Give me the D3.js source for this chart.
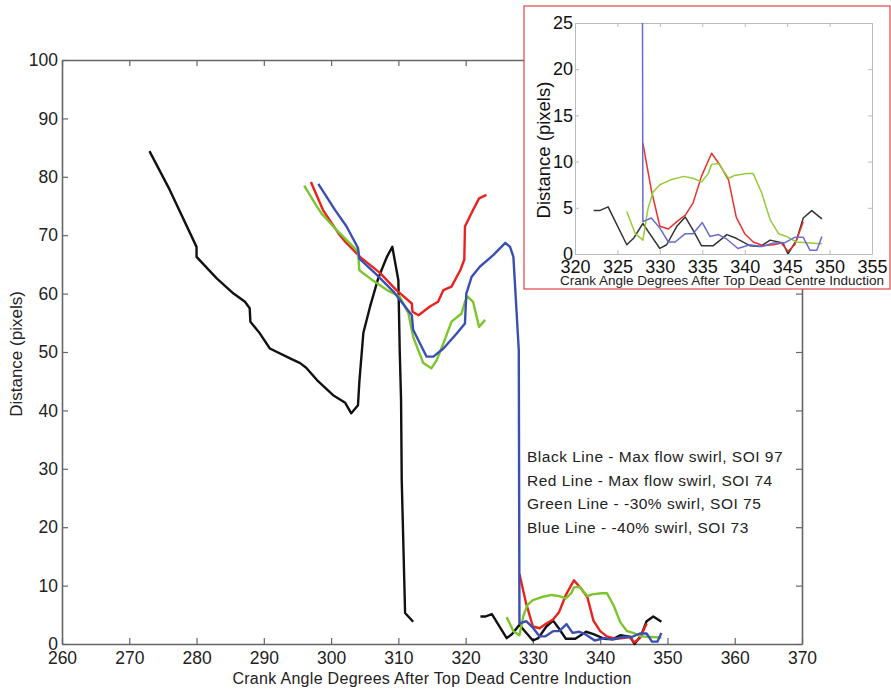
<!DOCTYPE html>
<html>
<head>
<meta charset="utf-8">
<script src="https://cdn.jsdelivr.net/npm/d3@7"></script>
<style>
body{margin:0;background:#fff;}
svg{font-family:"Liberation Sans",Arial,sans-serif;}
.axis path,.axis line{stroke:#666;}
.axis text{fill:#222;}
</style>
</head>
<body>
<svg id="chart"></svg>
<script>
// crank angle (deg) and distance (pixels), null = break in the trace
var blackAngle=[273.0,276.0,280.0,280.0,283.0,285.5,287.2,287.9,288.0,289.4,290.9,293.9,295.4,296.3,297.9,300.3,302.1,303.0,304.0,304.2,304.8,305.8,307.0,308.3,309.1,310.0,310.2,310.4,310.5,311.0,312.2,null,
    322.2,322.9,323.9,326.1,326.9,328.0,328.8,330.0,330.8,332.0,333.0,333.9,334.9,336.3,337.9,339.0,340.6,341.8,343.0,344.5,345.1,346.1,346.9,347.9,349.1]
var blackDist=[84.4,77.8,68.0,66.3,62.6,60.0,58.6,57.5,55.2,53.2,50.6,48.9,48.1,47.3,45.2,42.6,41.3,39.5,40.9,44.9,53.3,57.8,62.6,66.3,68.0,62.3,50.3,41.8,28.1,5.3,3.8,null,
    4.7,4.7,5.1,1.0,1.7,3.3,2.2,0.6,1.0,3.0,4.0,2.6,0.9,0.9,2.1,1.7,0.9,0.8,1.5,1.2,0.0,1.5,3.9,4.7,3.8]

var redAngle=[297.0,298.8,301.1,302.1,304.3,307.3,309.7,312.0,312.1,313.0,314.7,315.9,316.7,317.9,319.2,319.8,319.9,321.1,322.0,323.1,null,
    328.0,329.0,330.0,331.0,332.0,333.0,333.9,334.9,336.1,337.1,338.1,339.0,340.0,341.0,342.2,343.4,344.3,345.1,345.9,346.9]
var redDist=[79.1,74.3,70.3,68.9,66.3,63.5,60.6,58.3,56.9,56.3,57.8,58.6,60.6,61.2,64.0,65.8,71.5,74.3,76.3,76.9,null,
    12.0,6.9,3.0,2.7,3.5,4.2,5.5,8.4,10.9,9.6,8.0,4.0,2.2,1.3,0.9,1.0,1.2,0.3,1.0,3.5]

var greenAngle=[296.0,297.9,298.6,300.8,304.0,304.2,305.8,308.3,310.2,311.5,312.2,313.7,314.9,315.7,316.7,317.9,319.4,319.9,320.3,321.1,322.0,322.9,null,
    326.1,327.1,328.0,328.6,329.2,330.0,331.2,332.8,333.9,334.9,335.7,336.1,336.9,338.1,338.8,340.2,341.0,342.0,343.0,344.0,344.9,346.1,347.7,349.1]
var greenDist=[78.5,74.9,73.7,70.9,67.2,64.0,62.6,60.6,59.5,56.6,52.6,48.1,47.2,48.6,51.5,55.2,56.6,58.6,59.5,58.6,54.3,55.5,null,
    4.6,2.2,1.5,4.9,6.7,7.5,8.0,8.4,8.2,7.8,8.7,9.7,9.8,8.2,8.5,8.7,8.7,6.6,3.7,2.2,1.9,1.3,1.2,1.1]

var blueAngle=[298.1,300.6,302.3,304.0,304.2,306.8,309.3,312.0,312.2,314.2,315.2,316.7,318.7,319.9,320.1,320.9,322.1,324.1,325.9,326.6,327.1,327.9,
    328.0,329.0,330.0,331.0,331.8,333.0,333.9,335.0,335.9,336.9,337.9,339.2,340.6,342.0,343.4,344.7,345.9,346.9,347.7,348.5,349.1]
var blueDist=[78.8,74.3,71.5,67.8,66.0,63.2,60.3,56.3,53.8,49.2,49.2,50.6,53.2,54.9,60.0,62.9,64.6,66.6,68.7,68.0,66.3,50.3,
    3.5,3.9,2.8,1.3,1.3,2.2,2.2,3.4,1.9,2.1,1.6,0.6,1.0,0.8,1.2,1.2,1.8,1.8,0.4,0.4,1.9]

var legendLabels=["Black Line - Max flow swirl, SOI 97","Red Line - Max flow swirl, SOI 74","Green Line - -30% swirl, SOI 75","Blue Line - -40% swirl, SOI 73"]
var mainXTicks=[260,270,280,290,300,310,320,330,340,350,360,370]
var mainYTicks=[0,10,20,30,40,50,60,70,80,90,100]
var insetXTicks=[320,325,330,335,340,345,350,355]
var insetYTicks=[0,5,10,15,20,25]
var xTitle="Crank Angle Degrees After Top Dead Centre Induction"
var yTitle="Distance (pixels)"

var zipSeries=function(xs,ys){
    return xs.map(function(x,i){return {x:x,y:ys[i]}})
}
var series=[
    {pts:zipSeries(blackAngle,blackDist),main:"#111111",inset:"#333333"},
    {pts:zipSeries(redAngle,redDist),main:"#e8231f",inset:"#e8332a"},
    {pts:zipSeries(greenAngle,greenDist),main:"#7cc52c",inset:"#95cc3a"},
    {pts:zipSeries(blueAngle,blueDist),main:"#3a4fb3",inset:"#6a6ad0"}
]

var screen={width:891,height:689}
var svg=d3.select("#chart")
    .attr("width",screen.width)
    .attr("height",screen.height)

//main plot
var margins={left:62,top:60}
var graph={width:740,height:584}
var xScale=d3.scaleLinear().domain([260,370]).range([0,graph.width])
var yScale=d3.scaleLinear().domain([0,100]).range([graph.height,0])

var main=svg.append("g")
    .attr("transform","translate("+margins.left+","+margins.top+")")

var styleAxis=function(g,size){
    g.classed("axis",true)
    g.select(".domain").attr("stroke-width",1.6)
    g.selectAll(".tick line").attr("stroke-width",1.2)
    g.selectAll("text").attr("font-size",size)
}

main.append("g")
    .attr("transform","translate(0,"+graph.height+")")
    .call(d3.axisBottom(xScale).tickValues(mainXTicks).tickSizeInner(-6).tickSizeOuter(0).tickPadding(8))
    .call(styleAxis,17.5)
main.append("g")
    .call(d3.axisTop(xScale).tickValues(mainXTicks).tickSizeInner(-6).tickSizeOuter(0).tickFormat(""))
    .call(styleAxis,17.5)
main.append("g")
    .call(d3.axisLeft(yScale).tickValues(mainYTicks).tickSizeInner(-6).tickSizeOuter(0).tickPadding(4))
    .call(styleAxis,17.5)
main.append("g")
    .attr("transform","translate("+graph.width+",0)")
    .call(d3.axisRight(yScale).tickValues(mainYTicks).tickSizeInner(-6).tickSizeOuter(0).tickFormat(""))
    .call(styleAxis,17.5)

var lineMain=d3.line()
    .defined(function(d){return d.y!==null})
    .x(function(d){return xScale(d.x)})
    .y(function(d){return yScale(d.y)})

main.selectAll(".mainline")
    .data(series)
    .enter()
    .append("path")
    .attr("fill","none")
    .attr("stroke",function(s){return s.main})
    .attr("stroke-width",2.4)
    .attr("stroke-linejoin","round")
    .attr("d",function(s){return lineMain(s.pts)})

svg.append("text")
    .text(xTitle)
    .attr("text-anchor","middle")
    .attr("font-size",16)
    .attr("letter-spacing",0.3)
    .attr("fill","#222")
    .attr("x",margins.left+graph.width/2)
    .attr("y",684)
svg.append("g")
    .attr("transform","translate(22,354)")
    .append("text")
    .text(yTitle)
    .attr("text-anchor","middle")
    .attr("font-size",17)
    .attr("fill","#222")
    .attr("transform","rotate(-90)")

//legend text
svg.append("g")
    .selectAll("text")
    .data(legendLabels)
    .enter()
    .append("text")
    .text(function(d){return d})
    .attr("x",527)
    .attr("y",function(d,i){return 462+i*23.5})
    .attr("font-size",15.5)
    .attr("letter-spacing",0.5)
    .attr("fill","#222")

//inset
svg.append("rect")
    .attr("x",524).attr("y",6)
    .attr("width",366).attr("height",283)
    .attr("fill","#fff")
    .attr("stroke","#e04545")
    .attr("stroke-width",1.2)

var inset={left:575,top:23,width:297,height:231}
var xScale2=d3.scaleLinear().domain([320,355]).range([0,inset.width])
var yScale2=d3.scaleLinear().domain([0,25]).range([inset.height,0])
var ins=svg.append("g")
    .attr("transform","translate("+inset.left+","+inset.top+")")

var styleInset=function(g){
    g.select(".domain").attr("stroke","#bbb").attr("stroke-width",1)
    g.selectAll(".tick line").attr("stroke","#bbb")
    g.selectAll("text").attr("font-size",18).attr("fill","#111")
}
ins.append("g")
    .attr("transform","translate(0,"+inset.height+")")
    .call(d3.axisBottom(xScale2).tickValues(insetXTicks).tickSizeInner(-4).tickSizeOuter(0).tickPadding(6))
    .call(styleInset)
ins.append("g")
    .call(d3.axisTop(xScale2).tickValues(insetXTicks).tickSizeInner(-4).tickSizeOuter(0).tickFormat(""))
    .call(styleInset)
ins.append("g")
    .call(d3.axisLeft(yScale2).tickValues(insetYTicks).tickSizeInner(-4).tickSizeOuter(0).tickPadding(2))
    .call(styleInset)
ins.append("g")
    .attr("transform","translate("+inset.width+",0)")
    .call(d3.axisRight(yScale2).tickValues(insetYTicks).tickSizeInner(-4).tickSizeOuter(0).tickFormat(""))
    .call(styleInset)

ins.append("clipPath")
    .attr("id","insetclip")
    .append("rect")
    .attr("width",inset.width)
    .attr("height",inset.height)

var lineInset=d3.line()
    .defined(function(d){return d.y!==null})
    .x(function(d){return xScale2(d.x)})
    .y(function(d){return yScale2(d.y)})

ins.append("g")
    .attr("clip-path","url(#insetclip)")
    .selectAll("path")
    .data(series)
    .enter()
    .append("path")
    .attr("fill","none")
    .attr("stroke",function(s){return s.inset})
    .attr("stroke-width",1.5)
    .attr("stroke-linejoin","round")
    .attr("d",function(s){return lineInset(s.pts)})

svg.append("text")
    .text(xTitle)
    .attr("text-anchor","middle")
    .attr("font-size",13.5)
    .attr("fill","#222")
    .attr("x",722)
    .attr("y",285)
svg.append("g")
    .attr("transform","translate(550,150)")
    .append("text")
    .text(yTitle)
    .attr("text-anchor","middle")
    .attr("font-size",18.5)
    .attr("fill","#111")
    .attr("transform","rotate(-90)")
</script>
</body>
</html>
